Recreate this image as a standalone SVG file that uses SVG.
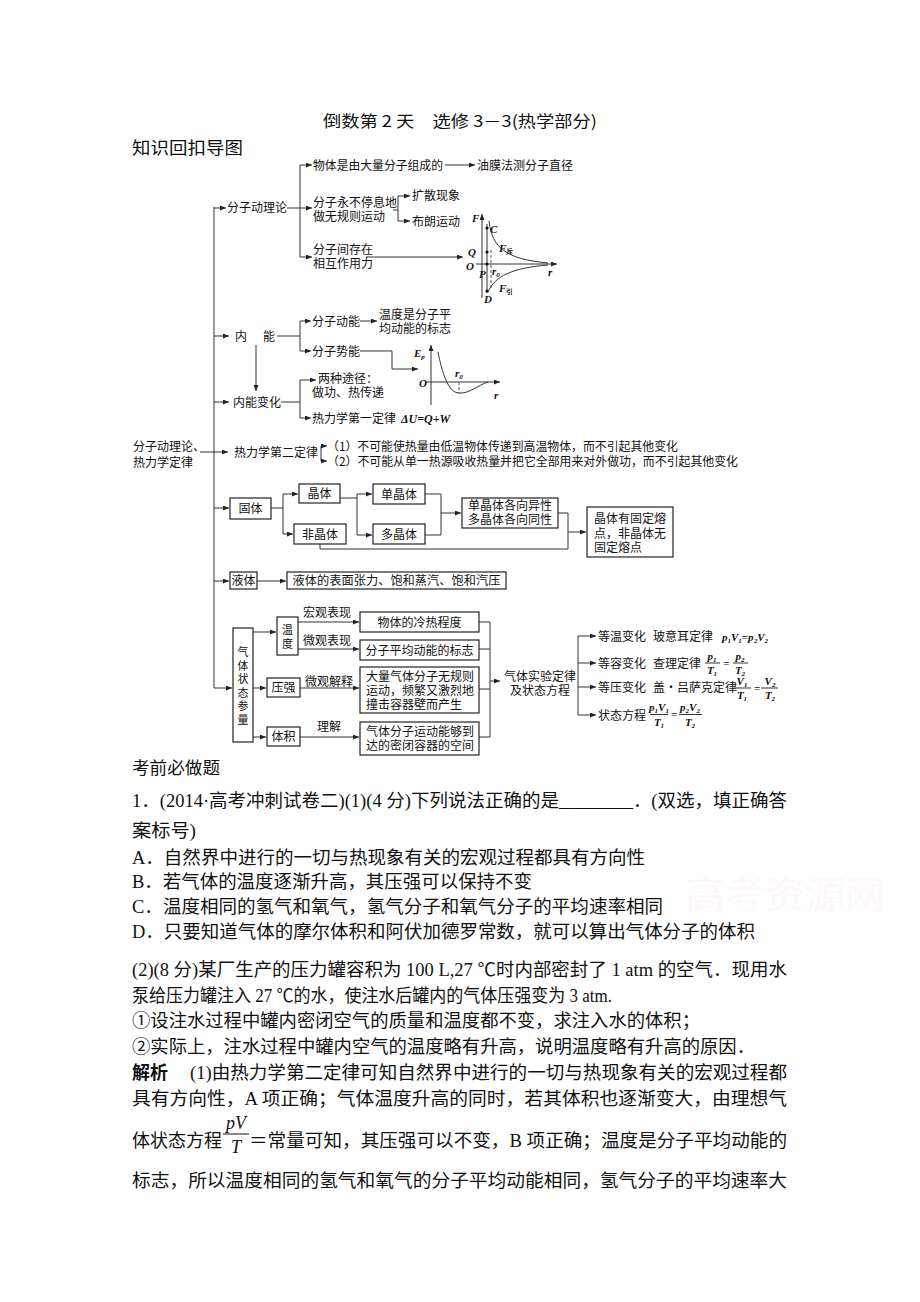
<svg xmlns="http://www.w3.org/2000/svg" width="920" height="1302" viewBox="0 0 920 1302">
<style>
.t{font-family:"Noto Sans CJK SC","Noto Sans",sans-serif;font-size:12px;fill:#111}
.v{font-size:11px}
.c{text-anchor:middle}
.ln{stroke:#333;stroke-width:1;fill:none}
.ar{stroke:#333;stroke-width:1;fill:none;marker-end:url(#ah)}
.bx{fill:#fff;stroke:#222;stroke-width:1.2}
.m{font-family:"Liberation Serif",serif;font-style:italic;font-weight:bold;font-size:11px;fill:#111}
.s{font-size:7px}
.b{font-family:"Liberation Serif","Noto Sans CJK SC",serif;font-size:18px;fill:#111}
.h{font-family:"Noto Sans CJK SC",sans-serif;font-size:17px;fill:#111}
.dash{stroke:#555;stroke-width:1;stroke-dasharray:3,2;fill:none}
</style>
<defs>
<marker id="ah" markerWidth="6" markerHeight="5" refX="6" refY="2.5" orient="auto" markerUnits="userSpaceOnUse">
<path d="M0,0 L6,2.5 L0,5 z" fill="#222"/>
</marker>
</defs>
<rect width="920" height="1302" fill="#fff"/>

<text x="460" y="127" text-anchor="middle" textLength="274" lengthAdjust="spacingAndGlyphs" style="font-family:'Noto Sans CJK SC',serif;font-size:16px;fill:#111">倒数第 2 天　选修 3－3(热学部分)</text>
<text x="132" y="154" class="h" textLength="111" lengthAdjust="spacingAndGlyphs">知识回扣导图</text>

<g id="connectors">
<path class="ln" d="M200,452 L214,452"/>
<path class="ar" d="M214,452 L228,452"/>
<path class="ln" d="M214,207 L214,688"/>
<path class="ar" d="M214,208 L226,208"/>
<path class="ln" d="M287,208 L300,208 M300,165 L300,257"/>
<path class="ar" d="M300,165 L312,165"/>
<path class="ar" d="M300,208 L312,208"/>
<path class="ar" d="M300,257 L312,257"/>
<path class="ar" d="M445,165 L475,165"/>
<path class="ln" d="M393,210 L398,210 M398,196 L398,221"/>
<path class="ar" d="M398,196 L410,196"/>
<path class="ar" d="M398,221 L410,221"/>
<path class="ar" d="M366,257 L463,257"/>
<path class="ar" d="M214,336 L229,336"/>
<path class="ln" d="M277,336 L300,336 M300,321 L300,351"/>
<path class="ar" d="M300,321 L311,321"/>
<path class="ar" d="M300,351 L311,351"/>
<path class="ar" d="M360,321 L377,321"/>
<path class="ar" d="M360,351 L392,351 L392,369 L418,369"/>
<path class="ar" d="M256,345 L256,391"/>
<path class="ar" d="M214,402 L229,402"/>
<path class="ln" d="M281,402 L300,402 M300,380 L300,418"/>
<path class="ar" d="M300,380 L316,380"/>
<path class="ar" d="M300,418 L311,418"/>
<path class="ln" d="M321,446 L321,461"/>
<path class="ar" d="M321,446 L327,446"/>
<path class="ar" d="M321,461 L327,461"/>
<path class="ar" d="M214,508 L229,508"/>
<path class="ln" d="M271,508 L283,508 M283,494 L283,534"/>
<path class="ar" d="M283,494 L298,494"/>
<path class="ar" d="M283,534 L293,534"/>
<path class="ln" d="M340,498 L357,498 M357,494 L357,535"/>
<path class="ar" d="M357,494 L372,494"/>
<path class="ar" d="M357,535 L372,535"/>
<path class="ln" d="M425,494 L441,494 M425,535 L441,535 M441,494 L441,535"/>
<path class="ar" d="M441,513 L461,513"/>
<path class="ln" d="M558,513 L568,513 L568,549 L320,549 L320,544"/>
<path class="ar" d="M568,532 L586,532"/>
<path class="ar" d="M214,581 L229,581"/>
<path class="ar" d="M257,581 L286,581"/>
<path class="ar" d="M214,688 L232,688"/>
<path class="ar" d="M253,632 L276,632"/>
<path class="ar" d="M253,688 L266,688"/>
<path class="ar" d="M253,737 L266,737"/>
<path class="ar" d="M298,622 L359,622"/>
<path class="ar" d="M298,649 L359,649"/>
<path class="ar" d="M300,688 L359,688"/>
<path class="ar" d="M300,737 L359,737"/>
<path class="ln" d="M479,622 L490,622 M479,649 L490,649 M479,689 L490,689 M479,737 L490,737 M490,622 L490,737"/>
<path class="ar" d="M490,681 L500,681"/>
<path class="ln" d="M578,636 L578,715"/>
<path class="ar" d="M578,636 L596,636"/>
<path class="ar" d="M578,663 L596,663"/>
<path class="ar" d="M578,687 L596,687"/>
<path class="ar" d="M578,715 L596,715"/>
</g>

<g id="root">
<text class="t" x="133" y="451">分子动理论、</text>
<text class="t" x="133" y="467">热力学定律</text>
</g>

<g id="kinetic">
<text class="t" x="227" y="212">分子动理论</text>
<text class="t" x="313" y="169.5" textLength="130" lengthAdjust="spacingAndGlyphs">物体是由大量分子组成的</text>
<text class="t" x="477" y="169.5">油膜法测分子直径</text>
<text class="t" x="313" y="206.5">分子永不停息地</text>
<text class="t" x="313" y="221">做无规则运动</text>
<text class="t" x="412" y="200">扩散现象</text>
<text class="t" x="412" y="225.5">布朗运动</text>
<text class="t" x="313" y="253.5">分子间存在</text>
<text class="t" x="313" y="267.5">相互作用力</text>
</g>

<g id="graph-F">
<path class="ar" d="M482,298 L482,214"/>
<path class="ar" d="M476,264 L557,264"/>
<path class="ln" d="M487,224 L487,293"/>
<path class="dash" d="M491,250 L491,288"/>
<path class="ln" d="M489,221 C492,248 506,259 548,263"/>
<path class="ln" d="M488,292 C495,276 512,268 548,265"/>
<circle cx="487" cy="228" r="1.6" fill="#111"/>
<circle cx="487" cy="252" r="1.6" fill="#111"/>
<circle cx="487" cy="264" r="1.6" fill="#111"/>
<circle cx="487" cy="291" r="1.6" fill="#111"/>
<text class="m" x="472" y="222">F</text>
<text class="m" x="490" y="233">C</text>
<text class="m" x="468" y="256">Q</text>
<text class="m" x="466" y="270">O</text>
<text class="m" x="479" y="278">P</text>
<text class="m" x="492" y="275">r<tspan class="s" dy="2">0</tspan></text>
<text class="m" x="548" y="276">r</text>
<text class="m" x="484" y="303">D</text>
<text class="m" x="499" y="252">F<tspan class="s" dy="2" style="font-style:normal">斥</tspan></text>
<text class="m" x="499" y="292">F<tspan class="s" dy="2" style="font-style:normal">引</tspan></text>
</g>

<g id="internal">
<text class="t" x="235" y="340.5">内</text>
<text class="t" x="263" y="340.5">能</text>
<text class="t" x="312" y="325.5">分子动能</text>
<text class="t" x="379" y="319">温度是分子平</text>
<text class="t" x="379" y="333">均动能的标志</text>
<text class="t" x="312" y="355.5">分子势能</text>
</g>

<g id="graph-Ep">
<path class="ar" d="M431,405 L431,345"/>
<path class="ar" d="M425,382 L500,382"/>
<path class="ln" d="M438,352 C442,372 448,393 459,393 C469,394 478,385 488,382"/>
<path class="dash" d="M459,382 L459,393"/>
<text class="m" x="414" y="357">E<tspan class="s" dy="2">p</tspan></text>
<text class="m" x="419" y="387">O</text>
<text class="m" x="455" y="377">r<tspan class="s" dy="2">0</tspan></text>
<text class="m" x="494" y="399">r</text>
</g>

<g id="internal-change">
<text class="t" x="233" y="406.5">内能变化</text>
<text class="t" x="318" y="383">两种途径：</text>
<text class="t" x="312" y="397">做功、热传递</text>
<text class="t" x="312" y="422.5">热力学第一定律</text>
<text class="m" x="401" y="422.5" style="font-size:12px">ΔU=Q+W</text>
</g>

<g id="second-law">
<text class="t" x="234" y="456.5">热力学第二定律</text>
<text class="t" x="327" y="450.5" textLength="351" lengthAdjust="spacingAndGlyphs">（1）不可能使热量由低温物体传递到高温物体，而不引起其他变化</text>
<text class="t" x="327" y="465.5" textLength="411" lengthAdjust="spacingAndGlyphs">（2）不可能从单一热源吸收热量并把它全部用来对外做功，而不引起其他变化</text>
</g>

<g id="solid">
<rect class="bx" x="230" y="498" width="41" height="21"/>
<text class="t c" x="250.5" y="512.5">固体</text>
<rect class="bx" x="299" y="484" width="41" height="19"/>
<text class="t c" x="319.5" y="498">晶体</text>
<rect class="bx" x="294" y="524" width="52" height="20"/>
<text class="t c" x="320" y="538.5">非晶体</text>
<rect class="bx" x="373" y="484" width="52" height="20"/>
<text class="t c" x="399" y="498.5">单晶体</text>
<rect class="bx" x="373" y="524" width="52" height="20"/>
<text class="t c" x="399" y="538.5">多晶体</text>
<rect class="bx" x="462" y="498" width="96" height="30"/>
<text class="t c" x="510" y="509.5">单晶体各向异性</text>
<text class="t c" x="510" y="523.5">多晶体各向同性</text>
<rect class="bx" x="587" y="507" width="86" height="50"/>
<text class="t" x="594" y="523">晶体有固定熔</text>
<text class="t" x="594" y="537.5">点，非晶体无</text>
<text class="t" x="594" y="552">固定熔点</text>
</g>

<g id="liquid">
<rect class="bx" x="230" y="572" width="27" height="17"/>
<text class="t c" x="243.5" y="585">液体</text>
<rect class="bx" x="287" y="572" width="219" height="17"/>
<text class="t c" x="396.5" y="585" textLength="208" lengthAdjust="spacingAndGlyphs">液体的表面张力、饱和蒸汽、饱和汽压</text>
</g>

<g id="gas">
<rect class="bx" x="233" y="628" width="20" height="114"/>
<text class="t v c" x="243" y="656">气</text>
<text class="t v c" x="243" y="669.5">体</text>
<text class="t v c" x="243" y="683">状</text>
<text class="t v c" x="243" y="696.5">态</text>
<text class="t v c" x="243" y="710">参</text>
<text class="t v c" x="243" y="723.5">量</text>
<rect class="bx" x="277" y="617" width="21" height="38"/>
<text class="t v c" x="287.5" y="634">温</text>
<text class="t v c" x="287.5" y="647.5">度</text>
<rect class="bx" x="267" y="678" width="33" height="19"/>
<text class="t c" x="283.5" y="692">压强</text>
<rect class="bx" x="267" y="727" width="33" height="19"/>
<text class="t c" x="283.5" y="741">体积</text>
<text class="t" x="303" y="616.5">宏观表现</text>
<text class="t" x="303" y="645">微观表现</text>
<text class="t" x="305" y="685.5">微观解释</text>
<text class="t" x="317" y="731">理解</text>
<rect class="bx" x="360" y="612" width="119" height="20"/>
<text class="t c" x="419.5" y="626.5">物体的冷热程度</text>
<rect class="bx" x="360" y="640" width="119" height="20"/>
<text class="t c" x="419.5" y="654.5">分子平均动能的标志</text>
<rect class="bx" x="360" y="667" width="119" height="46"/>
<text class="t" x="366" y="681">大量气体分子无规则</text>
<text class="t" x="366" y="695">运动，频繁又激烈地</text>
<text class="t" x="366" y="709">撞击容器壁而产生</text>
<rect class="bx" x="360" y="722" width="119" height="33"/>
<text class="t" x="366" y="736">气体分子运动能够到</text>
<text class="t" x="366" y="750">达的密闭容器的空间</text>
</g>

<g id="gas-laws">
<text class="t" x="504" y="680.5">气体实验定律</text>
<text class="t" x="510" y="694.5">及状态方程</text>
<text class="t" x="598" y="640.5">等温变化</text>
<text class="t" x="653" y="640.5">玻意耳定律</text>
<text class="m" x="722" y="640.5">p<tspan class="s" dy="2">1</tspan><tspan dy="-2">V</tspan><tspan class="s" dy="2">1</tspan><tspan dy="-2">=p</tspan><tspan class="s" dy="2">2</tspan><tspan dy="-2">V</tspan><tspan class="s" dy="2">2</tspan></text>
<text class="t" x="598" y="667.5">等容变化</text>
<text class="t" x="653" y="667.5">查理定律</text>
<text class="m c" x="712" y="660">p<tspan class="s" dy="2">1</tspan></text>
<path class="ln" d="M705,663 L720,663"/>
<text class="m c" x="712" y="674">T<tspan class="s" dy="2">1</tspan></text>
<text class="m" x="723" y="667">=</text>
<text class="m c" x="740" y="660">p<tspan class="s" dy="2">2</tspan></text>
<path class="ln" d="M733,663 L748,663"/>
<text class="m c" x="740" y="674">T<tspan class="s" dy="2">2</tspan></text>
<text class="t" x="598" y="691.5">等压变化</text>
<text class="t" x="653" y="691.5">盖·吕萨克定律</text>
<text class="m c" x="742" y="685">V<tspan class="s" dy="2">1</tspan></text>
<path class="ln" d="M734,688 L751,688"/>
<text class="m c" x="742" y="699">T<tspan class="s" dy="2">1</tspan></text>
<text class="m" x="754" y="692">=</text>
<text class="m c" x="770" y="685">V<tspan class="s" dy="2">2</tspan></text>
<path class="ln" d="M761,688 L778,688"/>
<text class="m c" x="770" y="699">T<tspan class="s" dy="2">2</tspan></text>
<text class="t" x="598" y="719.5">状态方程</text>
<text class="m c" x="659" y="711">p<tspan class="s" dy="2">1</tspan><tspan dy="-2">V</tspan><tspan class="s" dy="2">1</tspan></text>
<path class="ln" d="M650,714.5 L668,714.5"/>
<text class="m c" x="659" y="726">T<tspan class="s" dy="2">1</tspan></text>
<text class="m" x="671" y="718">=</text>
<text class="m c" x="690" y="711">p<tspan class="s" dy="2">2</tspan><tspan dy="-2">V</tspan><tspan class="s" dy="2">2</tspan></text>
<path class="ln" d="M679,714.5 L702,714.5"/>
<text class="m c" x="690" y="726">T<tspan class="s" dy="2">2</tspan></text>
</g>

<g id="questions">
<text class="h" x="132" y="774" textLength="88" lengthAdjust="spacingAndGlyphs">考前必做题</text>
<text class="b" x="132" y="806.5" textLength="655" lengthAdjust="spacingAndGlyphs">1．(2014·高考冲刺试卷二)(1)(4 分)下列说法正确的是________．(双选，填正确答</text>
<text class="b" x="132" y="836.5" textLength="64" lengthAdjust="spacingAndGlyphs">案标号)</text>
<text class="b" x="132" y="863.5" textLength="513" lengthAdjust="spacingAndGlyphs">A．自然界中进行的一切与热现象有关的宏观过程都具有方向性</text>
<text class="b" x="132" y="887.5" textLength="400" lengthAdjust="spacingAndGlyphs">B．若气体的温度逐渐升高，其压强可以保持不变</text>
<text class="b" x="132" y="912.5" textLength="531" lengthAdjust="spacingAndGlyphs">C．温度相同的氢气和氧气，氢气分子和氧气分子的平均速率相同</text>
<text class="b" x="132" y="937.5" textLength="623" lengthAdjust="spacingAndGlyphs">D．只要知道气体的摩尔体积和阿伏加德罗常数，就可以算出气体分子的体积</text>
<text class="b" x="132" y="975.5" textLength="655" lengthAdjust="spacingAndGlyphs">(2)(8 分)某厂生产的压力罐容积为 100 L,27 ℃时内部密封了 1 atm 的空气．现用水</text>
<text class="b" x="132" y="1001.5" textLength="480" lengthAdjust="spacingAndGlyphs">泵给压力罐注入 27 ℃的水，使注水后罐内的气体压强变为 3 atm.</text>
<text class="b" x="132" y="1026.5" textLength="568" lengthAdjust="spacingAndGlyphs">①设注水过程中罐内密闭空气的质量和温度都不变，求注入水的体积；</text>
<text class="b" x="132" y="1052.5" textLength="623" lengthAdjust="spacingAndGlyphs">②实际上，注水过程中罐内空气的温度略有升高，说明温度略有升高的原因．</text>
<text class="b" x="132" y="1078.5"><tspan style="font-family:'Noto Sans CJK SC',sans-serif;font-weight:bold">解析</tspan></text>
<text class="b" x="190" y="1078.5" textLength="597" lengthAdjust="spacingAndGlyphs">(1)由热力学第二定律可知自然界中进行的一切与热现象有关的宏观过程都</text>
<text class="b" x="132" y="1104.5" textLength="655" lengthAdjust="spacingAndGlyphs">具有方向性，A 项正确；气体温度升高的同时，若其体积也逐渐变大，由理想气</text>
<text class="b" x="132" y="1146.5" textLength="90" lengthAdjust="spacingAndGlyphs">体状态方程</text>
<text class="b" x="236" y="1129" text-anchor="middle" style="font-style:italic">pV</text>
<path d="M223,1134 L249,1134" stroke="#111" stroke-width="1"/>
<text class="b" x="236" y="1153" text-anchor="middle" style="font-style:italic">T</text>
<text class="b" x="249" y="1146.5" textLength="538" lengthAdjust="spacingAndGlyphs">＝常量可知，其压强可以不变，B 项正确；温度是分子平均动能的</text>
<text class="b" x="132" y="1186.5" textLength="655" lengthAdjust="spacingAndGlyphs">标志，所以温度相同的氢气和氧气的分子平均动能相同，氢气分子的平均速率大</text>
</g>

<text x="685" y="908" style="font-family:'Noto Sans CJK SC',sans-serif;font-size:38px;fill:#fef8f9" textLength="200" lengthAdjust="spacingAndGlyphs">高考资源网</text>
</svg>
